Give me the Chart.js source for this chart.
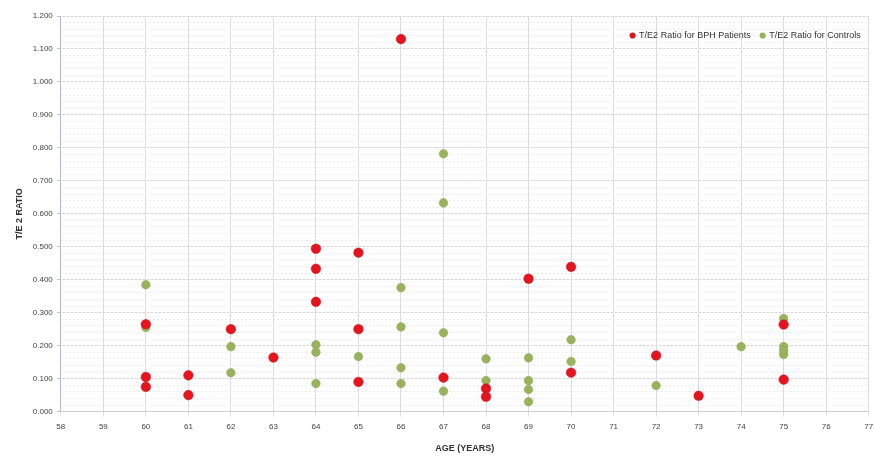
<!DOCTYPE html>
<html>
<head>
<meta charset="utf-8">
<script src="https://cdn.jsdelivr.net/npm/chart.js@4/dist/chart.umd.min.js"></script>
<style>
html,body{margin:0;padding:0;background:#fff;overflow:hidden;}
#wrap{width:874px;height:457px;position:relative;}
</style>
</head>
<body>
<div id="wrap"><canvas id="c" width="874" height="457"></canvas></div>
<script>
// ---- data ----
const seriesNames = ["T/E2 Ratio for BPH Patients", "T/E2 Ratio for Controls"];
const bphAge   = [60, 60, 60, 61, 61, 62, 63, 64, 64, 64, 65, 65, 65, 66, 67, 68, 68, 69, 70, 70, 72, 73, 75, 75];
const bphRatio = [0.265, 0.105, 0.075, 0.110, 0.050, 0.250, 0.164, 0.494, 0.433, 0.333, 0.482, 0.250, 0.090, 1.130, 0.103, 0.070, 0.045, 0.403, 0.439, 0.118, 0.170, 0.048, 0.264, 0.097];
const ctrlAge   = [60, 60, 62, 62, 64, 64, 64, 65, 66, 66, 66, 66, 67, 67, 67, 67, 68, 68, 69, 69, 69, 69, 70, 70, 72, 74, 75, 75, 75, 75];
const ctrlRatio = [0.385, 0.255, 0.197, 0.118, 0.203, 0.180, 0.085, 0.167, 0.376, 0.257, 0.133, 0.085, 0.782, 0.633, 0.239, 0.062, 0.160, 0.094, 0.163, 0.094, 0.067, 0.030, 0.218, 0.152, 0.079, 0.197, 0.282, 0.197, 0.173, 0.185];
const xTicks = [58, 59, 60, 61, 62, 63, 64, 65, 66, 67, 68, 69, 70, 71, 72, 73, 74, 75, 76, 77];
const yTicks = ["0.000","0.100","0.200","0.300","0.400","0.500","0.600","0.700","0.800","0.900","1.000","1.100","1.200"];
const xTitle = "AGE (YEARS)";
const yTitle = "T/E 2 RATIO";

const toPts = (xs, ys) => xs.map((x, i) => ({x: x, y: ys[i]}));
const FONT = "'Liberation Sans Narrow','Liberation Sans', Arial, sans-serif";

// place the legend inside the plot area, top-right (as in the reference)
const insideLegend = {
  id: 'insideLegend',
  beforeLayout(chart) {
    const lg = chart.legend;
    if (lg && !lg._patched) {
      const f = lg.fit.bind(lg);
      lg.fit = function () {
        f();
        if (this.lineWidths) this.lineWidths = this.lineWidths.map(w => w + 2);
        this._realH = this.height;
        this.height = 0;
      };
      lg._patched = true;
    }
  },
  afterLayout(chart) {
    const lg = chart.legend, ca = chart.chartArea;
    if (!lg) return;
    lg.left = ca.left;
    lg.right = ca.right + 4;
    lg.width = lg.right - lg.left;
    lg.top = ca.top + 5;
    lg.height = lg._realH;
    lg.bottom = lg.top + lg.height;
  }
};

new Chart(document.getElementById('c'), {
  type: 'scatter',
  data: {
    datasets: [
      {label: seriesNames[0], data: toPts(bphAge, bphRatio), backgroundColor: '#e5141e', borderColor: '#c8101a', borderWidth: 0.5, pointRadius: 4.8, pointHoverRadius: 4.8},
      {label: seriesNames[1], data: toPts(ctrlAge, ctrlRatio), backgroundColor: '#99b25c', borderColor: '#8ea552', borderWidth: 0.5, pointRadius: 4.3, pointHoverRadius: 4.3}
    ]
  },
  options: {
    responsive: false,
    animation: false,
    layout: {padding: {top: 16, right: 0, left: 14, bottom: 3}},
    plugins: {
      legend: {
        position: 'top',
        align: 'end',
        labels: {
          usePointStyle: true,
          pointStyle: 'circle',
          boxWidth: 4, boxHeight: 4,
          padding: 10,
          color: '#333',
          font: {family: FONT, size: 9}
        }
      },
      tooltip: {enabled: false}
    },
    scales: {
      x: {
        type: 'linear', min: 58, max: 77,
        afterBuildTicks: (s) => { s.ticks = xTicks.map(v => ({value: v})); },
        afterFit: (s) => { s.paddingRight = 0; s.paddingLeft = 0; },
        grid: {color: '#dcdcdc', lineWidth: 1, tickLength: 5, tickColor: '#e6e6e6'},
        border: {color: '#d0d0d0'},
        ticks: {color: '#444', font: {family: FONT, size: 8}, padding: 5, maxRotation: 0, autoSkip: false},
        title: {display: true, text: xTitle, color: '#333', font: {family: FONT, size: 9, weight: 'bold'}, padding: {top: 7, bottom: 0}}
      },
      y: {
        type: 'linear', min: 0, max: 1.2,
        afterBuildTicks: (s) => { s.ticks = yTicks.map(t => ({value: parseFloat(t)})); },
        grid: {color: '#d6d6d6', lineWidth: 1, tickLength: 4, tickColor: '#b8c6dc'},
        border: {color: '#a9bbd6'},
        ticks: {color: '#444', font: {family: FONT, size: 8}, padding: 4, callback: (v, i) => yTicks[i]},
        title: {display: true, text: yTitle, color: '#333', font: {family: FONT, size: 9, weight: 'bold'}, padding: {top: 0, bottom: 4}}
      },
      yMinor: {
        type: 'linear', min: 0, max: 1.2, position: 'left',
        ticks: {display: false, stepSize: 0.02},
        grid: {color: '#eeeeee', lineWidth: 1, drawTicks: false},
        border: {display: false, dash: [2, 2]},
        afterFit: (s) => { s.width = 0; }
      }
    }
  },
  plugins: [insideLegend]
});
</script>
</body>
</html>
